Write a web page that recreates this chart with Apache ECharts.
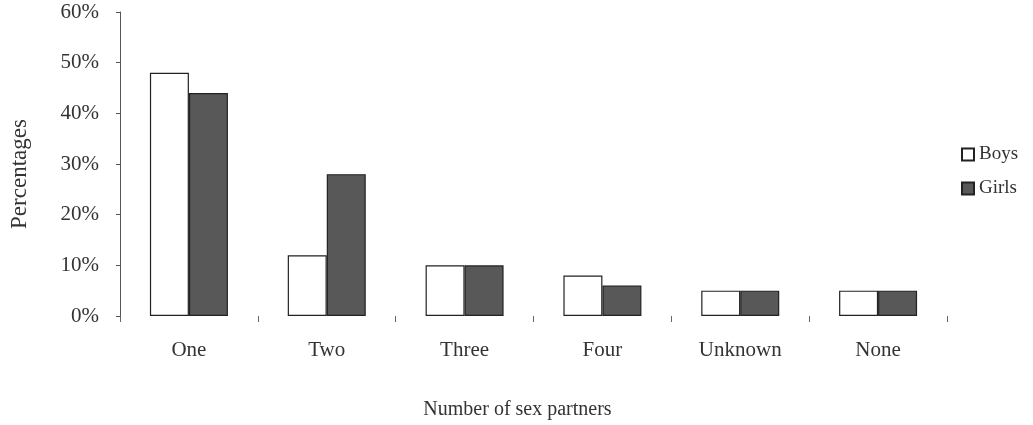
<!DOCTYPE html>
<html lang="en">
<head>
  <meta charset="UTF-8">
  <script src="https://cdnjs.cloudflare.com/ajax/libs/echarts/6.0.0/echarts.min.js"></script>
  <title>Sex partners</title>
  <style>
    html, body, main {
      height: 100%;
      width: 100%;
      padding: 0;
      margin: 0;
      background: #fff;
    }
  </style>
</head>
<body>
  <main></main>
</body>
<script>
  const categories = ['One', 'Two', 'Three', 'Four', 'Unknown', 'None']
  const boys = [48, 12, 10, 8, 5, 5]
  const girls = [44, 28, 10, 6, 5, 5]

  const serif = '"Liberation Serif", "DejaVu Serif", serif'

  const option = {
    backgroundColor: '#fff',
    textStyle: { fontFamily: serif, color: '#222' },
    legend: {
      orient: 'vertical',
      left: 956,
      top: 140,
      itemWidth: 12,
      itemHeight: 12,
      itemGap: 15,
      icon: 'rect',
      textStyle: { fontFamily: serif, fontSize: 19, color: '#333' },
      data: ['Boys', 'Girls']
    },
    grid: {
      left: 117,
      right: 86,
      top: 12,
      bottom: 108
    },
    xAxis: {
      type: 'category',
      data: categories,
      name: 'Number of sex partners',
      nameLocation: 'middle',
      nameGap: 84,
      nameTextStyle: { fontFamily: serif, fontSize: 20, color: '#333', padding: [0, 32, 0, 0] },
      axisLine: { show: false },
      axisTick: { show: true, length: 6, lineStyle: { color: '#666' } },
      axisLabel: { fontFamily: serif, fontSize: 21, color: '#333', margin: 24 }
    },
    yAxis: {
      type: 'value',
      min: 0,
      max: 60,
      interval: 10,
      name: 'Percentages',
      nameLocation: 'middle',
      nameGap: 89,
      nameTextStyle: { fontFamily: serif, fontSize: 23, color: '#333', padding: [0, 20, 0, 0] },
      axisLine: { show: true, lineStyle: { color: '#555', width: 1 } },
      axisTick: { show: true, length: 4, lineStyle: { color: '#555' } },
      splitLine: { show: false },
      axisLabel: {
        fontFamily: serif, fontSize: 21, color: '#333', margin: 21,
        formatter: '{value}%'
      }
    },
    series: [
      {
        type: 'bar',
        name: 'Boys',
        data: boys,
        barWidth: 39,
        barGap: '0%',
        itemStyle: { color: '#fff', borderColor: '#222', borderWidth: 1.2 }
      },
      {
        type: 'bar',
        name: 'Girls',
        data: girls,
        barWidth: 39,
        itemStyle: { color: '#585858', borderColor: '#222', borderWidth: 1.2 }
      }
    ]
  }

  const ins = echarts.init(document.getElementsByTagName('main')[0])
  ins.setOption(option)
</script>
</html>
